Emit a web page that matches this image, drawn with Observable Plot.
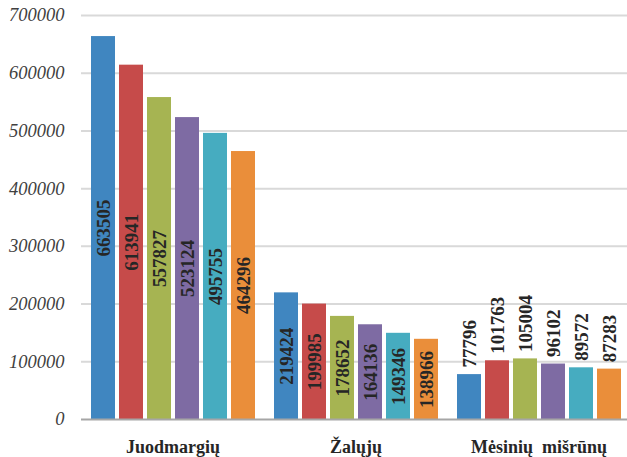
<!DOCTYPE html>
<html>
<head>
<meta charset="utf-8">
<script src="https://cdn.jsdelivr.net/npm/d3@7"></script>
<script src="https://cdn.jsdelivr.net/npm/@observablehq/plot@0.6"></script>
<style>
  html, body { margin: 0; padding: 0; background: #fff; }
  svg text { white-space: pre; }
</style>
</head>
<body>
<div id="chart"></div>
<script>
const categories = ["Juodmargių", "Žalųjų", "Mėsinių  mišrūnų"];
const series = ["1", "2", "3", "4", "5", "6"];
const juodmargiu = [663505, 613941, 557827, 523124, 495755, 464296];
const zaluju = [219424, 199985, 178652, 164136, 149346, 138966];
const mesiniu = [77796, 101763, 105004, 96102, 89572, 87283];
const yTicks = [0, 100000, 200000, 300000, 400000, 500000, 600000, 700000];
const colors = ["#4086c0", "#c64b4a", "#a6b452", "#7e6ba3", "#46acc0", "#ea8e3a"];

const rows = [juodmargiu, zaluju, mesiniu];
const data = [];
categories.forEach((c, i) => rows[i].forEach((v, j) => data.push({category: c, series: series[j], value: v})));

const font = "'Liberation Serif', 'Times New Roman', serif";

const chart = Plot.plot({
  width: 627,
  height: 457,
  marginLeft: 81,
  marginRight: -3,
  marginTop: 15,
  marginBottom: 38,
  style: {fontFamily: font, background: "#fff"},
  fx: {domain: categories, padding: 0},
  x: {domain: series, paddingInner: 0.15, paddingOuter: 0.26, axis: null},
  y: {domain: [0, 700000], axis: null},
  color: {domain: series, range: colors},
  marks: [
    Plot.ruleY(yTicks.slice(1), {stroke: "#d9d9d9", strokeWidth: 2}),
    Plot.barY(data, {fx: "category", x: "series", y: "value", fill: "series"}),
    Plot.ruleY([0], {stroke: "#a6a6a6", strokeWidth: 2}),
    Plot.text(data.filter(d => d.value >= 120000), {
      fx: "category", x: "series", y: d => d.value / 2, text: d => String(d.value),
      rotate: -90, fontSize: 19, fontWeight: "bold", fill: "#262626"
    }),
    Plot.text(data.filter(d => d.value < 120000), {
      fx: "category", x: "series", y: "value", text: d => String(d.value),
      rotate: -90, textAnchor: "start", dy: -7, fontSize: 19, fontWeight: "bold", fill: "#262626"
    }),
    Plot.axisY({ticks: yTicks, tickSize: 0, tickPadding: 17, fontSize: 18.5, fontStyle: "italic",
      fill: "#404040", tickFormat: d => String(d), label: null}),
    Plot.axisFx({anchor: "bottom", tickSize: 0, tickPadding: 21, fontSize: 18, fontWeight: "bold",
      fill: "#262626", label: null})
  ]
});
document.getElementById("chart").appendChild(chart);
</script>
</body>
</html>
